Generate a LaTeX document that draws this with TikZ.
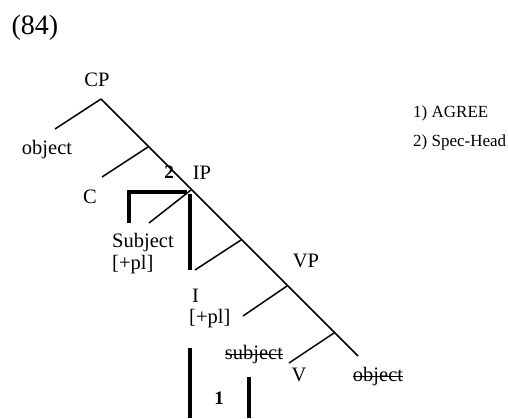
\documentclass[tikz,border=0pt]{standalone}
\usepackage{fontspec}
\setmainfont{Liberation Serif}
\tikzset{
  lbl/.style={inner sep=0pt, font=\fontsize{20.5}{24}\selectfont},
  small/.style={inner sep=0pt, font=\fontsize{17}{20}\selectfont},
  big/.style={inner sep=0pt, font=\fontsize{28}{32}\selectfont},
  num/.style={inner sep=0pt, font=\fontsize{19}{22}\selectfont\bfseries},
  br/.style={line width=1.5pt},
  thk/.style={line width=3.2pt},
  strike/.style={line width=1.3pt}
}
\begin{document}
\begin{tikzpicture}[x=1pt,y=-1pt]
\useasboundingbox (0,0) rectangle (508,418);
% labels
\node[big] (n84) at (35,28) {(84)};
\node[lbl] (cp) at (97,80) {CP};
\node[lbl] (obj1) at (47,150) {object};
\node[num] (two) at (169,172) {2};
\node[lbl] (ip) at (202,173) {IP};
\node[lbl] (c) at (90,197) {C};
\node[lbl,anchor=west] (subj) at (112,243) {Subject};
\node[lbl,anchor=west] (pl1) at (112,265) {[+pl]};
\node[lbl,anchor=west] (i) at (192,296) {I};
\node[lbl,anchor=west] (pl2) at (189,319) {[+pl]};
\node[lbl] (vp) at (306,261) {VP};
\node[lbl] (subj2) at (254,355) {subject};
\node[lbl] (v) at (299,375) {V};
\node[lbl] (obj2) at (378,377) {object};
\node[num] (one) at (219,398) {1};
\node[small,anchor=west] (agree) at (413,113) {1) AGREE};
\node[small,anchor=west] (spec) at (413,142) {2) Spec-Head};
% strike-throughs
\draw[strike] ([yshift=5.5pt]subj2.base west) -- ([yshift=5.5pt]subj2.base east);
\draw[strike] ([yshift=5.5pt]obj2.base west) -- ([yshift=5.5pt]obj2.base east);
% tree coordinates
\coordinate (top) at (101,99);
\coordinate (bot) at (358,356);
\coordinate (jc) at (148,147);
\coordinate (jip) at (191,190);
\coordinate (ji) at (241,240);
\coordinate (jvp) at (287,286);
\coordinate (jv) at (334,333);
\coordinate (eo) at (55,129);
\coordinate (ec) at (102,177);
\coordinate (es) at (149,223);
\coordinate (ei) at (195,270);
\coordinate (evp) at (243,316);
\coordinate (ev) at (289,363);
% tree lines
\draw[br] (top) -- (bot);
\draw[br] (top) -- (eo);
\draw[br] (jc) -- (ec);
\draw[br] (jip) -- (es);
\draw[br] (ji) -- (ei);
\draw[br] (jvp) -- (evp);
\draw[br] (jv) -- (ev);
% thick bracket
\coordinate (b1) at (129,223);
\coordinate (b2) at (129,192);
\coordinate (b3) at (187,192);
\coordinate (b4) at (190,194);
\coordinate (b5) at (190,270);
\draw[thk] (b1) -- (b2) -- (b3);
\draw[thk] (b4) -- (b5);
% lower thick lines
\coordinate (l1) at (190,348);
\coordinate (l2) at (190,418);
\coordinate (r1) at (249,377);
\coordinate (r2) at (249,418);
\draw[thk] (l1) -- (l2);
\draw[thk] (r1) -- (r2);
\end{tikzpicture}
\end{document}
